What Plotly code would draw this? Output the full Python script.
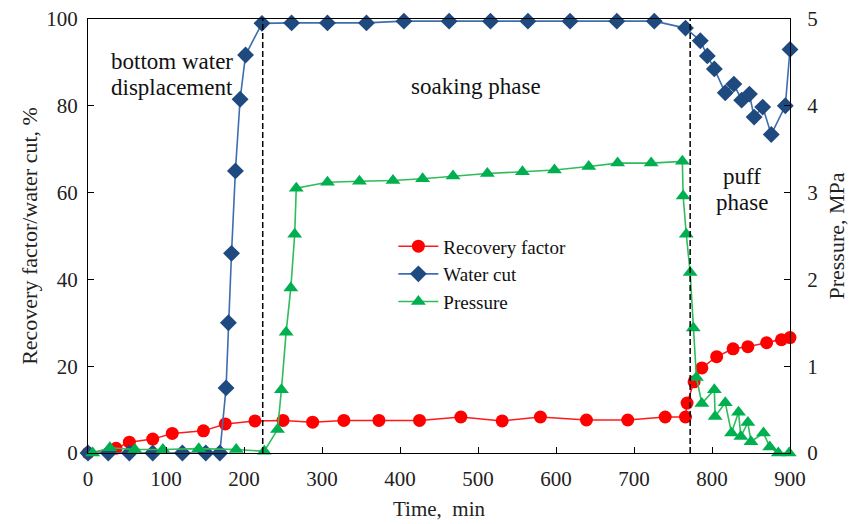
import plotly.graph_objects as go

# ---------------- data ----------------
time_rf = [0, 36, 53, 83, 108, 148, 176, 214, 250, 288, 328, 373, 425, 478, 531, 580,
           639, 692, 740, 766, 768, 777, 787, 806, 827, 846, 870, 889, 900]
recovery_factor = [0, 1.1, 2.5, 3.2, 4.5, 5.1, 6.7, 7.4, 7.5, 7.1, 7.5, 7.5, 7.5, 8.3, 7.4, 8.3,
                   7.6, 7.6, 8.3, 8.3, 11.5, 16.4, 19.6, 22.2, 24.0, 24.5, 25.4, 26.1, 26.6]

time_wc = [0, 26, 53, 83, 121, 151, 169, 177, 180, 184, 189, 195, 202, 223, 261, 307, 357,
           405, 463, 516, 564, 618, 678, 726, 766, 785, 794, 803, 817, 828, 838, 848, 854,
           865, 876, 894, 900]
water_cut = [0, 0, 0, 0, 0, 0, 0, 15, 30, 46, 65, 81.5, 91.7, 99, 99.1, 99.1, 99.1,
             99.5, 99.5, 99.5, 99.5, 99.5, 99.5, 99.5, 97.9, 95, 91.5, 88.5, 83, 85, 81.3, 82.7, 77.4,
             79.7, 73.4, 80, 93]

time_p = [6, 28, 60, 96, 142, 190, 226, 243, 248, 254, 260, 265, 267, 307, 348, 391, 429,
          468, 512, 557, 598, 642, 679, 722, 762, 763, 767, 772, 776, 780, 787, 803, 804,
          817, 825, 834, 837, 846, 850, 866, 874, 885, 899]
pressure = [0, 0.06, 0.04, 0.04, 0.05, 0.04, 0.02, 0.27, 0.73, 1.39, 1.9, 2.52, 3.05, 3.12,
            3.13, 3.14, 3.16, 3.19, 3.22, 3.24, 3.26, 3.30, 3.34, 3.34, 3.36, 2.96, 2.52, 2.08,
            1.44, 0.87, 0.57, 0.73, 0.42, 0.58, 0.23, 0.47, 0.19, 0.35, 0.13, 0.23, 0.07, 0, 0]

phase_boundaries = [224, 772]
x_ticks = [0, 100, 200, 300, 400, 500, 600, 700, 800, 900]
y_ticks = [0, 20, 40, 60, 80, 100]
y2_ticks = [0, 1, 2, 3, 4, 5]

FONT = "Liberation Serif"
TXT = "#222222"
FS = 21

fig = go.Figure()

fig.add_trace(go.Scatter(
    x=time_rf, y=recovery_factor, name="Recovery factor", mode="lines+markers",
    line=dict(color="#FF1A1A", width=1.5),
    marker=dict(symbol="circle", size=13, color="#FF0000"),
    cliponaxis=False))

fig.add_trace(go.Scatter(
    x=time_wc, y=water_cut, name="Water cut", mode="lines+markers",
    line=dict(color="#3F6DAF", width=1.6),
    marker=dict(symbol="diamond", size=13, color="#1F4A80"),
    cliponaxis=False))

fig.add_trace(go.Scatter(
    x=time_p, y=pressure, name="Pressure", mode="lines+markers", yaxis="y2",
    line=dict(color="#2EBD5A", width=1.6),
    marker=dict(symbol="triangle-up", size=13, color="#00B050"),
    cliponaxis=False))

for xb in phase_boundaries:
    fig.add_shape(type="line", xref="x", yref="y", x0=xb, x1=xb, y0=0, y1=100,
                  line=dict(color="black", width=1.5, dash="6px,3px"))

ann_font = dict(family=FONT, size=23, color="#111111")
labels = [
    ("bottom water", 27.5, 90.3, "left"),
    ("displacement", 27.5, 84.3, "left"),
    ("soaking phase", 497, 84.5, "center"),
    ("puff", 838, 63.7, "center"),
    ("phase", 838, 57.7, "center"),
]
for txt, lx, ly, anchor in labels:
    fig.add_annotation(x=lx, y=ly, xref="x", yref="y", text=txt, showarrow=False,
                       xanchor=anchor, yanchor="middle", font=ann_font)

axis_common = dict(showgrid=False, zeroline=False, showline=True, linecolor="black",
                   linewidth=1.3, ticks="inside", ticklen=6, tickcolor="black", automargin=False,
                   ticklabeloverflow="allow",
                   tickfont=dict(family=FONT, size=FS, color=TXT))

fig.update_layout(
    width=848, height=516,
    margin=dict(l=80, r=66, t=11, b=71),
    plot_bgcolor="white", paper_bgcolor="white",
    font=dict(family=FONT, size=FS, color=TXT),
    xaxis=dict(range=[0, 900], tickvals=x_ticks, mirror=True, ticklabelstandoff=7,
               title=dict(text="Time,  min", font=dict(family=FONT, size=FS, color=TXT), standoff=10),
               **axis_common),
    yaxis=dict(range=[0, 100], tickvals=y_ticks, ticklabelstandoff=5,
               title=dict(text="Recovery factor/water cut, %", font=dict(family=FONT, size=22, color=TXT),
                          standoff=2),
               **axis_common),
    yaxis2=dict(range=[0, 5], tickvals=y2_ticks, overlaying="y", side="right", ticklabelstandoff=12,
                title=dict(text="Pressure, MPa", font=dict(family=FONT, size=22, color=TXT), standoff=11),
                **axis_common),
    legend=dict(x=0.435, y=0.52, xanchor="left", yanchor="top", bgcolor="rgba(0,0,0,0)",
                font=dict(family=FONT, size=19, color="#111111"), tracegroupgap=0, itemwidth=40),
    showlegend=True,
)

fig.write_html("out.html")
